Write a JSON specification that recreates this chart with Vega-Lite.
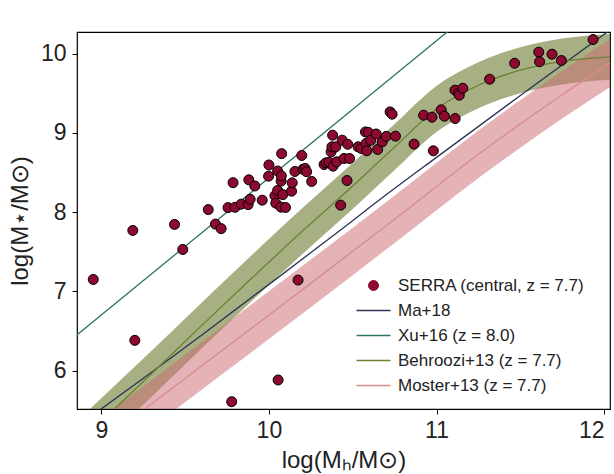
{
  "$schema": "https://vega.github.io/schema/vega-lite/v6.json",
  "width": 533,
  "height": 377,
  "autosize": {"type": "none"},
  "padding": {"left": 77, "top": 32, "right": 4, "bottom": 65},
  "background": "white",
  "config": {
    "view": {"stroke": "black", "strokeWidth": 1.2},
    "axis": {
      "grid": false, "domain": false, "tickColor": "black", "tickSize": 5, "tickWidth": 1,
      "labelFont": "Liberation Sans", "labelFontSize": 23, "labelColor": "#222",
      "titleFont": "Liberation Sans", "titleFontSize": 24, "titleFontWeight": "normal", "titleColor": "#222"
    }
  },
  "datasets": {
    "serra": [
      {"mh": 8.952, "ms": 7.150}, {"mh": 9.188, "ms": 7.768}, {"mh": 9.200, "ms": 6.381}, {"mh": 9.437, "ms": 7.844},
      {"mh": 9.486, "ms": 7.528}, {"mh": 9.638, "ms": 8.031}, {"mh": 9.681, "ms": 7.848}, {"mh": 9.715, "ms": 7.791},
      {"mh": 9.756, "ms": 8.056}, {"mh": 9.786, "ms": 8.371}, {"mh": 9.798, "ms": 8.060}, {"mh": 9.835, "ms": 8.100},
      {"mh": 9.876, "ms": 8.094}, {"mh": 9.880, "ms": 8.407}, {"mh": 9.888, "ms": 8.161}, {"mh": 9.916, "ms": 8.329},
      {"mh": 9.960, "ms": 8.150}, {"mh": 10.000, "ms": 8.594}, {"mh": 9.998, "ms": 8.453}, {"mh": 10.036, "ms": 8.207},
      {"mh": 10.041, "ms": 8.112}, {"mh": 10.052, "ms": 8.518}, {"mh": 10.052, "ms": 8.272}, {"mh": 10.076, "ms": 8.737},
      {"mh": 10.073, "ms": 8.391}, {"mh": 10.074, "ms": 8.457}, {"mh": 10.083, "ms": 8.220}, {"mh": 10.072, "ms": 8.062},
      {"mh": 10.099, "ms": 8.058}, {"mh": 10.135, "ms": 8.264}, {"mh": 10.139, "ms": 8.369}, {"mh": 10.155, "ms": 8.512},
      {"mh": 10.174, "ms": 7.142}, {"mh": 10.196, "ms": 8.714}, {"mh": 10.203, "ms": 8.540}, {"mh": 10.216, "ms": 8.550},
      {"mh": 10.225, "ms": 8.508}, {"mh": 10.255, "ms": 8.386}, {"mh": 10.055, "ms": 5.881}, {"mh": 9.778, "ms": 5.607},
      {"mh": 10.329, "ms": 8.600}, {"mh": 10.341, "ms": 8.621}, {"mh": 10.359, "ms": 8.628}, {"mh": 10.371, "ms": 8.760},
      {"mh": 10.376, "ms": 8.823}, {"mh": 10.380, "ms": 8.970}, {"mh": 10.383, "ms": 8.579}, {"mh": 10.399, "ms": 8.823},
      {"mh": 10.404, "ms": 8.634}, {"mh": 10.428, "ms": 8.087}, {"mh": 10.437, "ms": 8.907}, {"mh": 10.448, "ms": 8.676},
      {"mh": 10.466, "ms": 8.398}, {"mh": 10.470, "ms": 8.855}, {"mh": 10.481, "ms": 8.676}, {"mh": 10.532, "ms": 8.823},
      {"mh": 10.551, "ms": 8.802}, {"mh": 10.576, "ms": 9.011}, {"mh": 10.579, "ms": 8.865}, {"mh": 10.584, "ms": 8.773},
      {"mh": 10.593, "ms": 9.005}, {"mh": 10.607, "ms": 8.905}, {"mh": 10.640, "ms": 8.985}, {"mh": 10.649, "ms": 8.789},
      {"mh": 10.676, "ms": 8.886}, {"mh": 10.700, "ms": 8.955}, {"mh": 10.723, "ms": 9.264}, {"mh": 10.735, "ms": 9.235},
      {"mh": 10.755, "ms": 8.958}, {"mh": 10.866, "ms": 8.857}, {"mh": 10.923, "ms": 9.222}, {"mh": 10.973, "ms": 9.197},
      {"mh": 10.981, "ms": 8.773}, {"mh": 11.028, "ms": 9.290}, {"mh": 11.047, "ms": 9.210}, {"mh": 11.111, "ms": 9.180},
      {"mh": 11.110, "ms": 9.538}, {"mh": 11.131, "ms": 9.500}, {"mh": 11.136, "ms": 9.475}, {"mh": 11.157, "ms": 9.562},
      {"mh": 11.317, "ms": 9.676}, {"mh": 11.466, "ms": 9.878}, {"mh": 11.610, "ms": 10.018}, {"mh": 11.615, "ms": 9.897},
      {"mh": 11.689, "ms": 9.992}, {"mh": 11.745, "ms": 9.912}, {"mh": 11.934, "ms": 10.177}
    ],
    "curves": [
      {"model": "Ma+18", "mh": 8.80, "ms": 5.21}, {"model": "Ma+18", "mh": 9.292, "ms": 5.965},
      {"model": "Ma+18", "mh": 9.6, "ms": 6.45}, {"model": "Ma+18", "mh": 10.048, "ms": 7.163},
      {"model": "Ma+18", "mh": 10.4, "ms": 7.73}, {"model": "Ma+18", "mh": 10.723, "ms": 8.255},
      {"model": "Ma+18", "mh": 11.0, "ms": 8.69}, {"model": "Ma+18", "mh": 11.5, "ms": 9.47},
      {"model": "Ma+18", "mh": 12.05, "ms": 10.32},
      {"model": "Xu+16 (z = 8.0)", "mh": 8.80, "ms": 6.355}, {"model": "Xu+16 (z = 8.0)", "mh": 11.12, "ms": 10.37},
      {"model": "Behroozi+13 (z = 7.7)", "mh": 8.8, "ms": 4.96}, {"model": "Behroozi+13 (z = 7.7)", "mh": 9.0, "ms": 5.36},
      {"model": "Behroozi+13 (z = 7.7)", "mh": 9.3, "ms": 5.96}, {"model": "Behroozi+13 (z = 7.7)", "mh": 9.6, "ms": 6.57},
      {"model": "Behroozi+13 (z = 7.7)", "mh": 9.9, "ms": 7.17}, {"model": "Behroozi+13 (z = 7.7)", "mh": 10.2, "ms": 7.76},
      {"model": "Behroozi+13 (z = 7.7)", "mh": 10.5, "ms": 8.33}, {"model": "Behroozi+13 (z = 7.7)", "mh": 10.75, "ms": 8.82},
      {"model": "Behroozi+13 (z = 7.7)", "mh": 11.0, "ms": 9.30}, {"model": "Behroozi+13 (z = 7.7)", "mh": 11.25, "ms": 9.60},
      {"model": "Behroozi+13 (z = 7.7)", "mh": 11.5, "ms": 9.79}, {"model": "Behroozi+13 (z = 7.7)", "mh": 11.75, "ms": 9.90},
      {"model": "Behroozi+13 (z = 7.7)", "mh": 12.05, "ms": 9.96},
      {"model": "Moster+13 (z = 7.7)", "mh": 8.8, "ms": 4.78}, {"model": "Moster+13 (z = 7.7)", "mh": 9.25, "ms": 5.50},
      {"model": "Moster+13 (z = 7.7)", "mh": 9.75, "ms": 6.30}, {"model": "Moster+13 (z = 7.7)", "mh": 10.25, "ms": 7.10},
      {"model": "Moster+13 (z = 7.7)", "mh": 10.75, "ms": 7.91}, {"model": "Moster+13 (z = 7.7)", "mh": 11.25, "ms": 8.73},
      {"model": "Moster+13 (z = 7.7)", "mh": 11.75, "ms": 9.48}, {"model": "Moster+13 (z = 7.7)", "mh": 12.05, "ms": 9.90}
    ],
    "bands": [
      {"model": "B", "mh": 8.8, "lo": 4.67, "hi": 5.25}, {"model": "B", "mh": 9.0, "lo": 5.07, "hi": 5.65},
      {"model": "B", "mh": 9.3, "lo": 5.67, "hi": 6.25}, {"model": "B", "mh": 9.6, "lo": 6.28, "hi": 6.86},
      {"model": "B", "mh": 9.9, "lo": 6.88, "hi": 7.46}, {"model": "B", "mh": 10.2, "lo": 7.47, "hi": 8.05},
      {"model": "B", "mh": 10.5, "lo": 8.04, "hi": 8.62}, {"model": "B", "mh": 10.75, "lo": 8.53, "hi": 9.11},
      {"model": "B", "mh": 11.0, "lo": 9.01, "hi": 9.59}, {"model": "B", "mh": 11.25, "lo": 9.31, "hi": 9.89},
      {"model": "B", "mh": 11.5, "lo": 9.50, "hi": 10.08}, {"model": "B", "mh": 11.75, "lo": 9.61, "hi": 10.19},
      {"model": "B", "mh": 12.05, "lo": 9.67, "hi": 10.25},
      {"model": "M", "mh": 8.8, "lo": 4.48, "hi": 5.08}, {"model": "M", "mh": 9.25, "lo": 5.20, "hi": 5.80},
      {"model": "M", "mh": 9.75, "lo": 6.00, "hi": 6.60}, {"model": "M", "mh": 10.25, "lo": 6.80, "hi": 7.40},
      {"model": "M", "mh": 10.75, "lo": 7.61, "hi": 8.21}, {"model": "M", "mh": 11.25, "lo": 8.43, "hi": 9.03},
      {"model": "M", "mh": 11.75, "lo": 9.18, "hi": 9.78}, {"model": "M", "mh": 12.05, "lo": 9.60, "hi": 10.20}
    ]
  },
  "layer": [
    {
      "data": {"name": "bands"},
      "transform": [{"filter": "datum.model === 'B'"}],
      "mark": {"type": "area", "clip": true, "fill": "#6f8035", "opacity": 0.62, "interpolate": "monotone"},
      "encoding": {
        "x": {"field": "mh", "type": "quantitative", "scale": {"domain": [8.855, 12.035], "nice": false, "zero": false}, "title": "log(Mₕ/M⊙)", "axis": {"values": [9, 10, 11, 12], "format": "d", "labelPadding": 5, "titlePadding": 6, "labelFlush": 10}},
        "y": {"field": "lo", "type": "quantitative", "scale": {"domain": [5.515, 10.272], "nice": false, "zero": false}, "title": "log(M⋆/M⊙)", "axis": {"values": [6, 7, 8, 9, 10], "format": "d", "labelPadding": 6, "titlePadding": 8}},
        "y2": {"field": "hi"}
      }
    },
    {
      "data": {"name": "bands"},
      "transform": [{"filter": "datum.model === 'M'"}],
      "mark": {"type": "area", "clip": true, "fill": "#cd6b73", "opacity": 0.52, "interpolate": "monotone"},
      "encoding": {
        "x": {"field": "mh", "type": "quantitative", "title": "log(Mₕ/M⊙)"},
        "y": {"field": "lo", "type": "quantitative", "title": "log(M⋆/M⊙)"},
        "y2": {"field": "hi"}
      }
    },
    {
      "data": {"name": "curves"},
      "mark": {"type": "line", "clip": true, "strokeWidth": 1.3, "interpolate": "monotone"},
      "encoding": {
        "x": {"field": "mh", "type": "quantitative", "title": "log(Mₕ/M⊙)"},
        "y": {"field": "ms", "type": "quantitative", "title": "log(M⋆/M⊙)"},
        "color": {
          "field": "model", "type": "nominal",
          "scale": {
            "domain": ["SERRA (central, z = 7.7)", "Ma+18", "Xu+16 (z = 8.0)", "Behroozi+13 (z = 7.7)", "Moster+13 (z = 7.7)"],
            "range": ["#8c0a30", "#2c3254", "#2e7563", "#6e8032", "#d98a8e"]
          },
          "legend": {
            "title": null, "orient": "none", "legendX": 288, "legendY": 245,
            "labelFont": "Liberation Sans", "labelFontSize": 17, "labelColor": "#222", "labelLimit": 400,
            "symbolType": "stroke", "symbolSize": 1156, "symbolStrokeWidth": 1.5,
            "rowPadding": 7, "labelOffset": 16,
            "encode": {
              "symbols": {
                "update": {
                  "shape": {"signal": "datum.value === 'SERRA (central, z = 7.7)' ? 'circle' : 'stroke'"},
                  "size": {"signal": "datum.value === 'SERRA (central, z = 7.7)' ? 100 : 1156"},
                  "fill": {"signal": "datum.value === 'SERRA (central, z = 7.7)' ? '#8c0a30' : 'transparent'"},
                  "stroke": {"signal": "datum.value === 'SERRA (central, z = 7.7)' ? 'black' : scale('color', datum.value)"},
                  "strokeWidth": {"signal": "datum.value === 'SERRA (central, z = 7.7)' ? 1 : 1.5"},
                  "opacity": {"value": 1}
                }
              }
            }
          }
        }
      }
    },
    {
      "data": {"name": "serra"},
      "transform": [{"calculate": "'SERRA (central, z = 7.7)'", "as": "model"}],
      "mark": {"type": "circle", "size": 100, "stroke": "black", "strokeWidth": 1, "opacity": 1, "clip": true},
      "encoding": {
        "x": {"field": "mh", "type": "quantitative", "title": "log(Mₕ/M⊙)"},
        "y": {"field": "ms", "type": "quantitative", "title": "log(M⋆/M⊙)"},
        "color": {"field": "model", "type": "nominal"}
      }
    }
  ]
}
